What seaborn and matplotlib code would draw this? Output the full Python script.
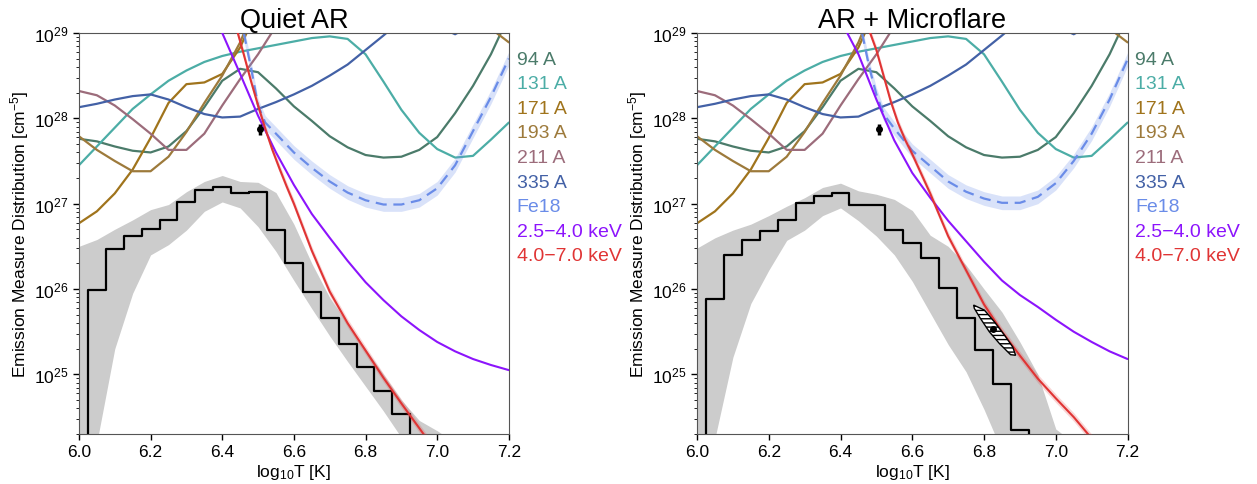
import numpy as np
import pandas as pd
import matplotlib
matplotlib.use("Agg")
import matplotlib.pyplot as plt
import seaborn as sns

# ---------------- data (log10 EM in cm^-5) ----------------
T_grid = [6.0, 6.05, 6.1, 6.15, 6.2, 6.25, 6.3, 6.35, 6.4, 6.45, 6.5, 6.55, 6.6,
          6.65, 6.7, 6.75, 6.8, 6.85, 6.9, 6.95, 7.0, 7.05, 7.1, 7.15, 7.2]
nan = np.nan
aia_94 = [27.76, 27.73, 27.67, 27.62, 27.60, 27.67, 27.85, 28.13, 28.44, 28.58, 28.54, 28.35, 28.14,
          27.97, 27.79, 27.66, 27.57, 27.54, 27.55, 27.63, 27.78, 28.06, 28.38, 28.75, 29.2]
aia_131 = [27.45, 27.67, 27.89, 28.11, 28.28, 28.44, 28.56, 28.66, 28.73, 28.78, 28.82, 28.86, 28.90,
           28.94, 28.96, 28.93, 28.75, 28.43, 28.10, 27.83, 27.64, 27.54, 27.56, 27.75, 27.95]
aia_171 = [26.77, 26.91, 27.12, 27.40, 27.77, 28.18, 28.40, 28.42, 28.52, 28.83, 29.3, nan, nan,
           nan, nan, nan, nan, nan, nan, nan, nan, nan, nan, nan, nan]
aia_193 = [27.79, 27.63, 27.50, 27.38, 27.38, 27.55, 27.84, 28.18, 28.50, 28.89, 29.4, nan, nan,
           nan, nan, nan, nan, nan, nan, nan, nan, nan, 29.3, 29.05, 28.89]
aia_211 = [28.32, 28.27, 28.15, 27.99, 27.82, 27.63, 27.63, 27.82, 28.15, 28.46, 28.75, 29.08, nan,
           nan, nan, nan, nan, nan, nan, nan, nan, nan, nan, nan, nan]
aia_335 = [28.13, 28.17, 28.22, 28.26, 28.28, 28.22, 28.13, 28.05, 28.01, 28.02, 28.11, 28.19, 28.28,
           28.38, 28.50, 28.63, 28.80, 28.97, 29.15, 29.2, 29.08, 28.985, 29.1, 29.3, 29.5]

fe18_T = [6.46, 6.48, 6.50, 6.52, 6.55, 6.6, 6.65, 6.7, 6.75, 6.8, 6.85, 6.9, 6.95, 7.0, 7.05, 7.1, 7.15, 7.2]
fe18_quiet = [29.0, 28.6, 28.15, 27.95, 27.82, 27.60, 27.42, 27.26, 27.13, 27.04, 26.99, 26.99, 27.04,
              27.18, 27.45, 27.85, 28.25, 28.70]
fe18_flare = [29.0, 28.6, 28.28, 28.05, 27.88, 27.62, 27.44, 27.26, 27.14, 27.06, 27.01, 27.01, 27.08,
              27.24, 27.50, 27.82, 28.22, 28.69]

lo_T = [6.40, 6.45, 6.50, 6.55, 6.60, 6.65, 6.70, 6.75, 6.80, 6.85, 6.90, 6.95, 7.00, 7.05, 7.10, 7.15, 7.20]
lo_quiet = [29.0, 28.52, 28.03, 27.60, 27.22, 26.88, 26.60, 26.33, 26.08, 25.87, 25.68, 25.52, 25.38,
            25.27, 25.18, 25.11, 25.05]
lo_flare = [29.15, 28.75, 28.22, 27.74, 27.36, 27.07, 26.80, 26.56, 26.32, 26.10, 25.93, 25.79, 25.64,
            25.50, 25.38, 25.27, 25.18]

hi_T = [6.44, 6.46, 6.48, 6.50, 6.52, 6.54, 6.56, 6.58, 6.60, 6.65, 6.70, 6.75, 6.80, 6.85, 6.90,
        6.95, 7.00, 7.05, 7.10]
hi_quiet = [29.05, 28.75, 28.44, 28.15, 27.88, 27.63, 27.41, 27.20, 27.00, 26.45, 25.97, 25.60,
            25.28, 24.96, 24.66, 24.37, 24.08, 23.8, 23.5]
hi_flare = [29.6, 29.3, 29.03, 28.8, 28.5, 28.2, 27.95, 27.75, 27.58, 27.12, 26.62, 26.22, 25.82,
            25.50, 25.22, 24.95, 24.72, 24.50, 24.25]

dem_T = [6.0, 6.05, 6.1, 6.15, 6.2, 6.25, 6.3, 6.35, 6.4, 6.45, 6.5, 6.55, 6.6, 6.65, 6.7, 6.75,
         6.8, 6.85, 6.9, 6.95]
dem_quiet = [20.0, 25.99, 26.47, 26.62, 26.70, 26.81, 27.02, 27.16, 27.20, 27.13, 27.14, 26.69, 26.30,
             25.96, 25.66, 25.36, 25.09, 24.81, 24.54, 20.0]
dem_flare = [20.0, 25.88, 26.40, 26.58, 26.68, 26.81, 27.01, 27.09, 27.12, 26.99, 26.99, 26.69, 26.54,
             26.36, 26.01, 25.66, 25.29, 24.89, 24.35, 20.0]

band_T = [6.0, 6.05, 6.1, 6.15, 6.2, 6.25, 6.3, 6.35, 6.4, 6.45, 6.5, 6.55, 6.6, 6.65, 6.7, 6.75,
          6.8, 6.85, 6.9, 6.95, 7.0, 7.05]
band_quiet_hi = [26.50, 26.58, 26.70, 26.81, 26.93, 26.99, 27.14, 27.26, 27.33, 27.26, 27.25, 27.13,
                 26.76, 26.30, 25.90, 25.59, 25.30, 25.00, 24.70, 24.46, 24.34, 24.20]
band_quiet_lo = [23.0, 24.2, 25.3, 25.95, 26.40, 26.52, 26.69, 26.91, 27.02, 26.95, 26.73, 26.44,
                 26.10, 25.77, 25.45, 25.15, 24.86, 24.57, 24.26, 23.9, 23.5, 23.0]
band_flare_hi = [26.48, 26.60, 26.69, 26.76, 26.86, 26.97, 27.07, 27.19, 27.24, 27.15, 27.11, 27.05,
                 26.92, 26.63, 26.50, 26.28, 26.00, 25.73, 25.38, 25.00, 24.36, 24.20]
band_flare_lo = [23.0, 24.25, 25.20, 25.83, 26.22, 26.57, 26.69, 26.86, 26.95, 26.80, 26.62, 26.40,
                 26.09, 25.72, 25.35, 25.03, 24.59, 24.10, 23.6, 23.2, 23.0, 23.0]

fe18_obs_T = [6.505, 6.508]
fe18_obs = [27.87, 27.87]

flare_T = [6.771, 6.801, 6.829, 6.857, 6.880, 6.888, 6.874, 6.843, 6.815, 6.790, 6.773]
flare_EM = [25.812, 25.753, 25.615, 25.459, 25.321, 25.224, 25.231, 25.361, 25.498, 25.655, 25.773]
flare_best_T = 6.826
flare_best_EM = 25.526

titles = ["Quiet AR", "AR + Microflare"]
labels = ["94 A", "131 A", "171 A", "193 A", "211 A", "335 A", "Fe18",
          "2.5\u22124.0 keV", "4.0\u22127.0 keV"]
colors = ["#4b7b6a", "#4cada6", "#a0741c", "#9d7a3b", "#9c6c7b", "#4361a6", "#6a8ce8",
          "#8c14fc", "#e03434"]

# ---------------- style ----------------
sns.set_style("ticks")
plt.rcParams["font.family"] = ["Liberation Sans", "DejaVu Sans"]
plt.rcParams["mathtext.fontset"] = "custom"
plt.rcParams["mathtext.rm"] = "Liberation Sans"
plt.rcParams["mathtext.it"] = "Liberation Sans:italic"
plt.rcParams["axes.edgecolor"] = "#555555"
plt.rcParams["text.color"] = "black"
plt.rcParams["axes.labelcolor"] = "black"
plt.rcParams["xtick.color"] = "black"
plt.rcParams["ytick.color"] = "black"

fig = plt.figure(figsize=(12.57, 4.85), dpi=100)
ax_l = fig.add_axes([0.0628, 0.103, 0.342, 0.827])
ax_r = fig.add_axes([0.5545, 0.103, 0.3425, 0.827])

aia = [aia_94, aia_131, aia_171, aia_193, aia_211, aia_335]
panels = [
    (ax_l, fe18_quiet, lo_quiet, hi_quiet, dem_quiet, band_quiet_hi, band_quiet_lo, fe18_obs_T[0], fe18_obs[0], False),
    (ax_r, fe18_flare, lo_flare, hi_flare, dem_flare, band_flare_hi, band_flare_lo, fe18_obs_T[1], fe18_obs[1], True),
]

for i, (ax, fe18, lo, hi, dem, bhi, blo, oT, oEM, flare) in enumerate(panels):
    ax.set_yscale("log")
    # gray uncertainty band of DEM
    ax.fill_between(band_T, 10 ** np.array(blo), 10 ** np.array(bhi),
                    color="#cccccc", lw=0, zorder=1)
    # DEM histogram
    sns.lineplot(x=dem_T, y=10 ** np.array(dem), ax=ax, color="black", lw=1.6,
                 drawstyle="steps-mid", estimator=None, sort=False, zorder=3)
    # AIA loci
    for vals, lab, col in zip(aia, labels[:6], colors[:6]):
        v = np.array(vals, dtype=float)
        mask = ~np.isnan(v)
        idx = np.where(mask)[0]
        segs = np.split(idx, np.where(np.diff(idx) > 1)[0] + 1)
        for k, s in enumerate(segs):
            sns.lineplot(x=np.array(T_grid)[s], y=10 ** v[s], ax=ax, color=col, lw=1.6,
                         estimator=None, sort=False, label=lab if k == 0 else None, zorder=2)
    # Fe18 locus with band
    fe = np.array(fe18)
    ax.fill_between(fe18_T, 10 ** (fe - 0.08), 10 ** (fe + 0.08), color=colors[6], alpha=0.25,
                    lw=0, zorder=2)
    sns.lineplot(x=fe18_T, y=10 ** fe, ax=ax, color=colors[6], lw=1.6, linestyle=(0, (5, 3)),
                 estimator=None, sort=False, label=labels[6], zorder=2)
    # X-ray loci
    sns.lineplot(x=lo_T, y=10 ** np.array(lo), ax=ax, color=colors[7], lw=1.5,
                 estimator=None, sort=False, label=labels[7], zorder=4)
    h = np.array(hi)
    ax.fill_between(hi_T, 10 ** (h - 0.05), 10 ** (h + 0.05), color=colors[8], alpha=0.2,
                    lw=0, zorder=3)
    sns.lineplot(x=hi_T, y=10 ** h, ax=ax, color=colors[8], lw=1.5,
                 estimator=None, sort=False, label=labels[8], zorder=4)
    # Fe18 observed point
    ax.errorbar([oT], [10 ** oEM], yerr=[[10 ** oEM - 10 ** (oEM - 0.06)], [10 ** (oEM + 0.06) - 10 ** oEM]],
                fmt="o", ms=4, color="black", elinewidth=2.5, capsize=0, zorder=5)
    if flare:
        ax.fill(flare_T, 10 ** np.array(flare_EM), facecolor="white", edgecolor="black",
                hatch="----", lw=1.0, zorder=5)
        ax.plot([flare_best_T], [10 ** flare_best_EM], "o", color="black", ms=4, zorder=6)

    ax.set_xlim(6.0, 7.2)
    ax.set_ylim(2e24, 1e29)
    ax.set_xticks([6.0, 6.2, 6.4, 6.6, 6.8, 7.0, 7.2])
    ax.set_yticks([1e25, 1e26, 1e27, 1e28, 1e29])
    ax.tick_params(axis="both", labelsize=12.5, direction="out", length=4, width=1)
    ax.tick_params(axis="y", which="minor", length=2.5)
    ax.set_title(titles[i], fontsize=19.5, pad=4)
    ax.set_xlabel("log$_{10}$T [K]", fontsize=12.5, labelpad=2)
    ax.set_ylabel("Emission Measure Distribution [cm$^{-5}$]", fontsize=12.5, labelpad=2)

    leg = ax.legend(loc="upper left", bbox_to_anchor=(1.0, 0.977), frameon=False,
                    handlelength=0, handletextpad=0.0, labelspacing=0.36, fontsize=14,
                    labelcolor="linecolor", borderaxespad=0.0)
    for hnd in leg.legend_handles:
        hnd.set_visible(False)

fig.savefig("out.png", dpi=100)
